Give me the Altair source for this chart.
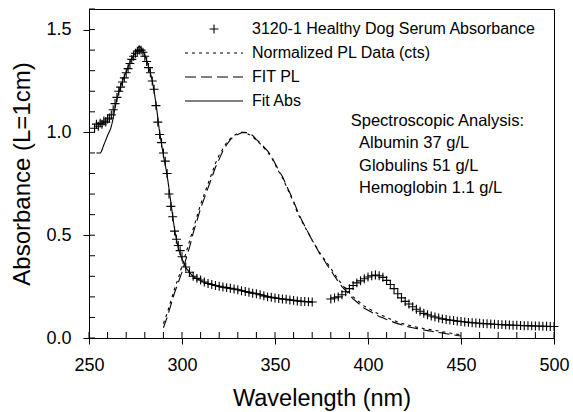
import altair as alt
import pandas as pd

FONT = "Liberation Sans"

S_ABS = "3120-1 Healthy Dog Serum Absorbance"
S_PL = "Normalized PL Data (cts)"
S_FITPL = "FIT PL"
S_FITABS = "Fit Abs"
series_domain = [S_ABS, S_PL, S_FITPL, S_FITABS]

# --- Absorbance data (crosses) ---
wl_abs = list(range(253, 301)) + list(range(302, 371, 2)) + list(range(380, 501, 2))
abs_vals = [
    1.02, 1.04, 1.03, 1.045, 1.04, 1.055, 1.05, 1.065, 1.07, 1.085,
    1.11, 1.14, 1.17, 1.20, 1.22, 1.245, 1.265, 1.29, 1.31, 1.335,
    1.355, 1.37, 1.385, 1.395, 1.40, 1.40, 1.39, 1.37, 1.345, 1.315,
    1.29, 1.25, 1.21, 1.13, 1.05, 0.99, 0.95, 0.90, 0.86, 0.80,
    0.70, 0.64, 0.59, 0.52, 0.48, 0.45, 0.425, 0.395,
    # 302..370 step 2
    0.345, 0.32, 0.30, 0.29, 0.282, 0.272, 0.265, 0.26, 0.255, 0.252,
    0.248, 0.245, 0.242, 0.238, 0.235, 0.23, 0.226, 0.222, 0.218, 0.215,
    0.21, 0.205, 0.20, 0.198, 0.195, 0.192, 0.19, 0.188, 0.185, 0.183,
    0.18, 0.178, 0.177, 0.176, 0.175,
    # 380..500 step 2
    0.19, 0.195, 0.20, 0.21, 0.225, 0.24, 0.255, 0.268, 0.278, 0.288,
    0.297, 0.303, 0.306, 0.303, 0.295, 0.28, 0.26, 0.24, 0.215, 0.195,
    0.178, 0.165, 0.152, 0.14, 0.13, 0.12, 0.113, 0.107, 0.102, 0.097,
    0.093, 0.09, 0.087, 0.085, 0.082, 0.08, 0.078, 0.076, 0.074, 0.073,
    0.072, 0.07, 0.069, 0.068, 0.067, 0.066, 0.065, 0.064, 0.063, 0.062,
    0.062, 0.061, 0.06, 0.06, 0.059, 0.058, 0.058, 0.057, 0.057, 0.056,
    0.056,
]

# --- PL curves ---
wl_pl = list(range(290, 451, 2))
pl_data = [
    0.07, 0.12, 0.18, 0.24, 0.29, 0.35, 0.41, 0.47, 0.53, 0.59,
    0.65, 0.70, 0.75, 0.80, 0.85, 0.89, 0.92, 0.95, 0.97, 0.985,
    0.995, 1.0, 1.0, 0.99, 0.98, 0.96, 0.945, 0.925, 0.905, 0.88,
    0.845, 0.81, 0.78, 0.74, 0.70, 0.66, 0.61, 0.575, 0.54, 0.51,
    0.475, 0.445, 0.415, 0.39, 0.365, 0.34, 0.31, 0.285, 0.26, 0.24,
    0.22, 0.20, 0.185, 0.17, 0.155, 0.145, 0.135, 0.125, 0.115, 0.108,
    0.10, 0.092, 0.085, 0.078, 0.072, 0.066, 0.062, 0.058, 0.053, 0.05,
    0.046, 0.043, 0.04, 0.037, 0.034, 0.03, 0.027, 0.024, 0.021, 0.018,
    0.015,
]
fit_pl = [
    0.05, 0.10, 0.16, 0.22, 0.27, 0.32, 0.38, 0.44, 0.51, 0.57,
    0.63, 0.68, 0.73, 0.78, 0.83, 0.87, 0.91, 0.94, 0.965, 0.98,
    0.99, 0.998, 1.0, 0.995, 0.985, 0.965, 0.95, 0.93, 0.91, 0.885,
    0.85, 0.815, 0.785, 0.745, 0.705, 0.665, 0.62, 0.58, 0.545, 0.51,
    0.475, 0.445, 0.41, 0.385, 0.355, 0.33, 0.30, 0.275, 0.25, 0.23,
    0.21, 0.19, 0.175, 0.16, 0.145, 0.135, 0.125, 0.115, 0.105, 0.098,
    0.09, 0.083, 0.076, 0.07, 0.064, 0.058, 0.054, 0.05, 0.046, 0.042,
    0.039, 0.036, 0.033, 0.03, 0.027, 0.024, 0.021, 0.018, 0.015, 0.012,
    0.01,
]

# --- Fit Abs (solid) ---
wl_fitabs = [254, 256, 258, 260, 262, 263, 264, 266, 268, 270, 272, 274, 276, 277, 278,
             280, 282, 284, 286, 288, 290, 292, 294, 296, 298, 300, 302, 304, 306, 310,
             320, 330, 340, 350, 360, 370]
fit_abs = [0.90, 0.90, 0.94, 0.985, 1.03, 1.07, 1.12, 1.195, 1.25, 1.295, 1.34, 1.375, 1.40, 1.42, 1.41,
           1.375, 1.32, 1.25, 1.14, 1.00, 0.89, 0.79, 0.66, 0.53, 0.44, 0.385, 0.345, 0.32, 0.30, 0.28,
           0.25, 0.235, 0.215, 0.195, 0.183, 0.175]

# --- Annotation ---
ann_text = ["Spectroscopic Analysis:", "Albumin 37 g/L", "Globulins 51 g/L", "Hemoglobin 1.1 g/L"]
ann_wl = [390.7, 395.2, 395.2, 395.2]
ann_val = [1.031, 0.922, 0.812, 0.703]

# --- Axis ticks ---
x_major = [250, 300, 350, 400, 450, 500]
y_major = [0.0, 0.5, 1.0, 1.5]
x_minor = list(range(250, 501, 10))
y_minor = [i / 10 for i in range(0, 17)]

W, H = 465, 329

abs_df = pd.DataFrame({"wl": wl_abs, "val": abs_vals, "series": S_ABS})
pl_df = pd.concat([
    pd.DataFrame({"wl": wl_pl, "val": pl_data, "series": S_PL}),
    pd.DataFrame({"wl": wl_pl, "val": fit_pl, "series": S_FITPL}),
])
fa_df = pd.DataFrame({"wl": wl_fitabs, "val": fit_abs, "series": S_FITABS})
ann_df = pd.DataFrame({"wl": ann_wl, "val": ann_val, "t": ann_text})
xt_df = pd.DataFrame({"wl": x_minor})
yt_df = pd.DataFrame({"val": y_minor})

x_enc = alt.X("wl:Q", scale=alt.Scale(domain=[250, 500], nice=False, zero=False),
              axis=alt.Axis(values=x_major, title="Wavelength (nm)", format="d", labelFlush=False,
                            titleY=67, titleBaseline="alphabetic", titleFontSize=23.5))
y_enc = alt.Y("val:Q", scale=alt.Scale(domain=[0, 1.6], nice=False),
              axis=alt.Axis(values=y_major, format=".1f", title="Absorbance (L=1cm)", labelFlush=False,
                            titleX=-67, titleBaseline="middle", titleFontSize=24))

# symbol size 256 -> path unit = 8 px
PLUS = "M-0.56,0L0.56,0M0,-0.56L0,0.56"
LINE = "M-3.625,0L3.625,0"
shape_scale = alt.Scale(domain=series_domain, range=[PLUS, LINE, LINE, LINE])
dash_scale = alt.Scale(domain=series_domain, range=[[1, 0], [3, 4], [11, 5], [1, 0]])

points = alt.Chart(abs_df).mark_point(filled=False, size=256, strokeWidth=1.1,
                                      color="black", opacity=1).encode(
    x=x_enc, y=y_enc,
    shape=alt.Shape("series:N", scale=shape_scale, legend=alt.Legend(title=None)),
)

pl_lines = alt.Chart(pl_df).mark_line(color="black", strokeWidth=1.1).encode(
    x=x_enc, y=y_enc,
    strokeDash=alt.StrokeDash("series:N", scale=dash_scale, legend=alt.Legend(title=None)),
)

fa_line = alt.Chart(fa_df).mark_line(color="black", strokeWidth=1.1, interpolate="monotone").encode(
    x=x_enc, y=y_enc,
    strokeDash=alt.StrokeDash("series:N", scale=dash_scale, legend=alt.Legend(title=None)),
)

ann = alt.Chart(ann_df).mark_text(align="left", baseline="alphabetic", fontSize=16.5,
                                  font=FONT, color="black").encode(
    x=x_enc, y=y_enc, text="t:N")

xticks = alt.Chart(xt_df).mark_rule(color="black", strokeWidth=1).encode(
    x=x_enc, y=alt.value(H - 6), y2=alt.value(H))
yticks = alt.Chart(yt_df).mark_rule(color="black", strokeWidth=1).encode(
    y=y_enc, x=alt.value(0), x2=alt.value(6))

chart = alt.layer(points, pl_lines, fa_line, ann, xticks, yticks).properties(
    width=W, height=H,
    autosize=alt.AutoSizeParams(type="none"),
    padding={"left": 89, "top": 9, "right": 19, "bottom": 74},
).configure_view(
    stroke="black", strokeWidth=1
).configure_axis(
    grid=False, labelFont=FONT, labelFontSize=18, labelColor="black",
    titleFont=FONT, titleColor="black", titleFontWeight="normal",
    tickColor="black", tickSize=6, tickWidth=1, domainColor="black", domainWidth=1,
    labelPadding=12,
).configure_legend(
    orient="none", legendX=116, legendY=11, padding=0, direction="vertical",
    labelFont=FONT, labelFontSize=16, labelColor="black", labelLimit=400,
    symbolSize=256, symbolStrokeWidth=1.1, symbolStrokeColor="black",
    labelOffset=29, rowPadding=7,
)

chart.save("out.html", embed_options={"renderer": "svg", "actions": False})
